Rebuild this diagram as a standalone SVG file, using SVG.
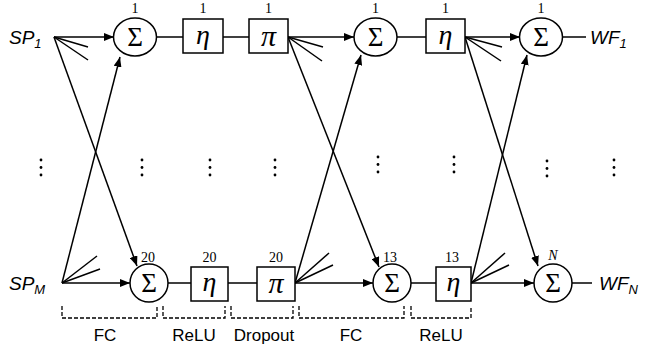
<svg xmlns="http://www.w3.org/2000/svg" width="657" height="349" viewBox="0 0 657 349">
<defs>
<marker id="ah" markerWidth="10" markerHeight="8" refX="10" refY="4" orient="auto" markerUnits="userSpaceOnUse">
<path d="M0,0 L10,4 L0,8 Z" fill="#000"/>
</marker>
<g id="vd"><circle cx="0" cy="0" r="1.4"/><circle cx="0" cy="7.5" r="1.4"/><circle cx="0" cy="15" r="1.4"/></g>
<style>
.n{fill:#fff;stroke:#000;stroke-width:1.5}
.l{stroke:#000;stroke-width:1.5;fill:none}
.a{stroke:#000;stroke-width:1.5;fill:none;marker-end:url(#ah)}
.sym{font-family:"Liberation Serif",serif;font-size:27px;text-anchor:middle}
.eta{font-family:"Liberation Serif",serif;font-size:28px;font-style:italic;text-anchor:middle}
.pi{font-family:"Liberation Serif",serif;font-size:30px;font-style:italic;text-anchor:middle}
.num{font-family:"Liberation Serif",serif;font-size:14px;text-anchor:middle}
.io{font-family:"Liberation Sans",Arial,sans-serif;font-size:19px;font-style:italic}
.sub{font-size:13px}
.lab{font-family:"Liberation Sans",Arial,sans-serif;font-size:17px;text-anchor:middle}
.br{stroke:#000;stroke-width:1.3;fill:none;stroke-dasharray:4 2}
</style>
</defs>
<rect width="657" height="349" fill="#fff"/>
<g id="connectors">
<line class="a" x1="54" y1="37" x2="114" y2="37"/>
<line class="l" x1="54" y1="37" x2="88" y2="47"/>
<line class="l" x1="54" y1="37" x2="88" y2="60"/>
<line class="a" x1="54" y1="37" x2="137" y2="266"/>
<line class="a" x1="62" y1="283" x2="130" y2="283"/>
<line class="l" x1="62" y1="283" x2="97" y2="256"/>
<line class="l" x1="62" y1="283" x2="100" y2="269"/>
<line class="a" x1="62" y1="283" x2="120" y2="57"/>
<line class="l" x1="156.5" y1="37" x2="183" y2="37"/>
<line class="l" x1="223" y1="37" x2="249" y2="37"/>
<line class="l" x1="168" y1="283" x2="191" y2="283"/>
<line class="l" x1="228" y1="283" x2="257" y2="283"/>
<line class="a" x1="288" y1="37" x2="354" y2="37"/>
<line class="l" x1="288" y1="37" x2="323" y2="47"/>
<line class="l" x1="288" y1="37" x2="322" y2="61"/>
<line class="a" x1="288" y1="37" x2="379" y2="267"/>
<line class="a" x1="295" y1="283" x2="373" y2="283"/>
<line class="l" x1="295" y1="283" x2="329" y2="253"/>
<line class="l" x1="295" y1="283" x2="333" y2="265"/>
<line class="a" x1="295" y1="283" x2="361" y2="55"/>
<line class="l" x1="397" y1="37" x2="426" y2="37"/>
<line class="l" x1="411" y1="283" x2="436" y2="283"/>
<line class="a" x1="465" y1="37" x2="520" y2="37"/>
<line class="l" x1="465" y1="37" x2="502" y2="47"/>
<line class="l" x1="465" y1="37" x2="501" y2="61"/>
<line class="a" x1="465" y1="37" x2="538" y2="266"/>
<line class="a" x1="471" y1="283" x2="534" y2="283"/>
<line class="l" x1="471" y1="283" x2="505" y2="253"/>
<line class="l" x1="471" y1="283" x2="509" y2="265"/>
<line class="a" x1="471" y1="283" x2="527" y2="55"/>
<line class="l" x1="562.5" y1="37" x2="586" y2="37"/>
<line class="l" x1="572" y1="283" x2="592" y2="283"/>
</g>
<g id="sp1"><text class="io" x="9" y="44">SP<tspan class="sub" dy="4">1</tspan></text></g>
<g id="spm"><text class="io" x="9" y="290">SP<tspan class="sub" dy="4">M</tspan></text></g>
<g id="wf1"><text class="io" x="590" y="44">WF<tspan class="sub" dy="4">1</tspan></text></g>
<g id="wfn"><text class="io" x="599" y="290">WF<tspan class="sub" dy="4">N</tspan></text></g>
<g id="sum1"><ellipse class="n" cx="135" cy="37" rx="21.5" ry="19"/><text class="sym" x="135" y="46">Σ</text><text class="num" x="135" y="13">1</text></g>
<g id="eta1"><rect class="n" x="183" y="19" width="40" height="34"/><text class="eta" x="203" y="44">η</text><text class="num" x="203" y="13">1</text></g>
<g id="pi1"><rect class="n" x="249" y="19" width="39" height="34"/><text class="pi" x="268.5" y="46">π</text><text class="num" x="268.5" y="13">1</text></g>
<g id="sum2"><ellipse class="n" cx="375.5" cy="37" rx="21.5" ry="19"/><text class="sym" x="375.5" y="46">Σ</text><text class="num" x="375.5" y="13">1</text></g>
<g id="eta2"><rect class="n" x="426" y="19" width="39" height="34"/><text class="eta" x="445.5" y="44">η</text><text class="num" x="445.5" y="13">1</text></g>
<g id="sum3"><ellipse class="n" cx="541" cy="37" rx="21.5" ry="19"/><text class="sym" x="541" y="46">Σ</text><text class="num" x="541" y="13">1</text></g>
<g id="sumb1"><circle class="n" cx="149" cy="283" r="19"/><text class="sym" x="149" y="292">Σ</text><text class="num" x="148" y="262">20</text></g>
<g id="etab1"><rect class="n" x="191" y="267" width="37" height="34"/><text class="eta" x="209.5" y="291">η</text><text class="num" x="209.5" y="262">20</text></g>
<g id="pib1"><rect class="n" x="257" y="267" width="38" height="34"/><text class="pi" x="276" y="293">π</text><text class="num" x="276" y="262">20</text></g>
<g id="sumb2"><circle class="n" cx="392" cy="283" r="19"/><text class="sym" x="392" y="292">Σ</text><text class="num" x="390" y="262">13</text></g>
<g id="etab2"><rect class="n" x="436" y="267" width="35" height="34"/><text class="eta" x="453.5" y="291">η</text><text class="num" x="452" y="262">13</text></g>
<g id="sumb3"><circle class="n" cx="553" cy="283" r="19"/><text class="sym" x="553" y="292">Σ</text><text class="num" x="553" y="260" font-style="italic">N</text></g>
<g id="ellipses" fill="#000">
<use href="#vd" x="41" y="160"/>
<use href="#vd" x="142" y="160"/>
<use href="#vd" x="210" y="160"/>
<use href="#vd" x="275" y="160"/>
<use href="#vd" x="378" y="157"/>
<use href="#vd" x="454" y="157"/>
<use href="#vd" x="547" y="161"/>
<use href="#vd" x="614" y="160"/>
</g>
<g id="brackets">
<path class="br" d="M62,306 V318 H157 V306"/>
<path class="br" d="M163,306 V318 H225 V306"/>
<path class="br" d="M231,306 V318 H293 V306"/>
<path class="br" d="M299,306 V318 H404 V306"/>
<path class="br" d="M411,306 V318 H471 V306"/>
<text class="lab" x="105" y="341">FC</text>
<text class="lab" x="194" y="341">ReLU</text>
<text class="lab" x="264" y="341">Dropout</text>
<text class="lab" x="351" y="341">FC</text>
<text class="lab" x="441" y="341">ReLU</text>
</g>
</svg>
